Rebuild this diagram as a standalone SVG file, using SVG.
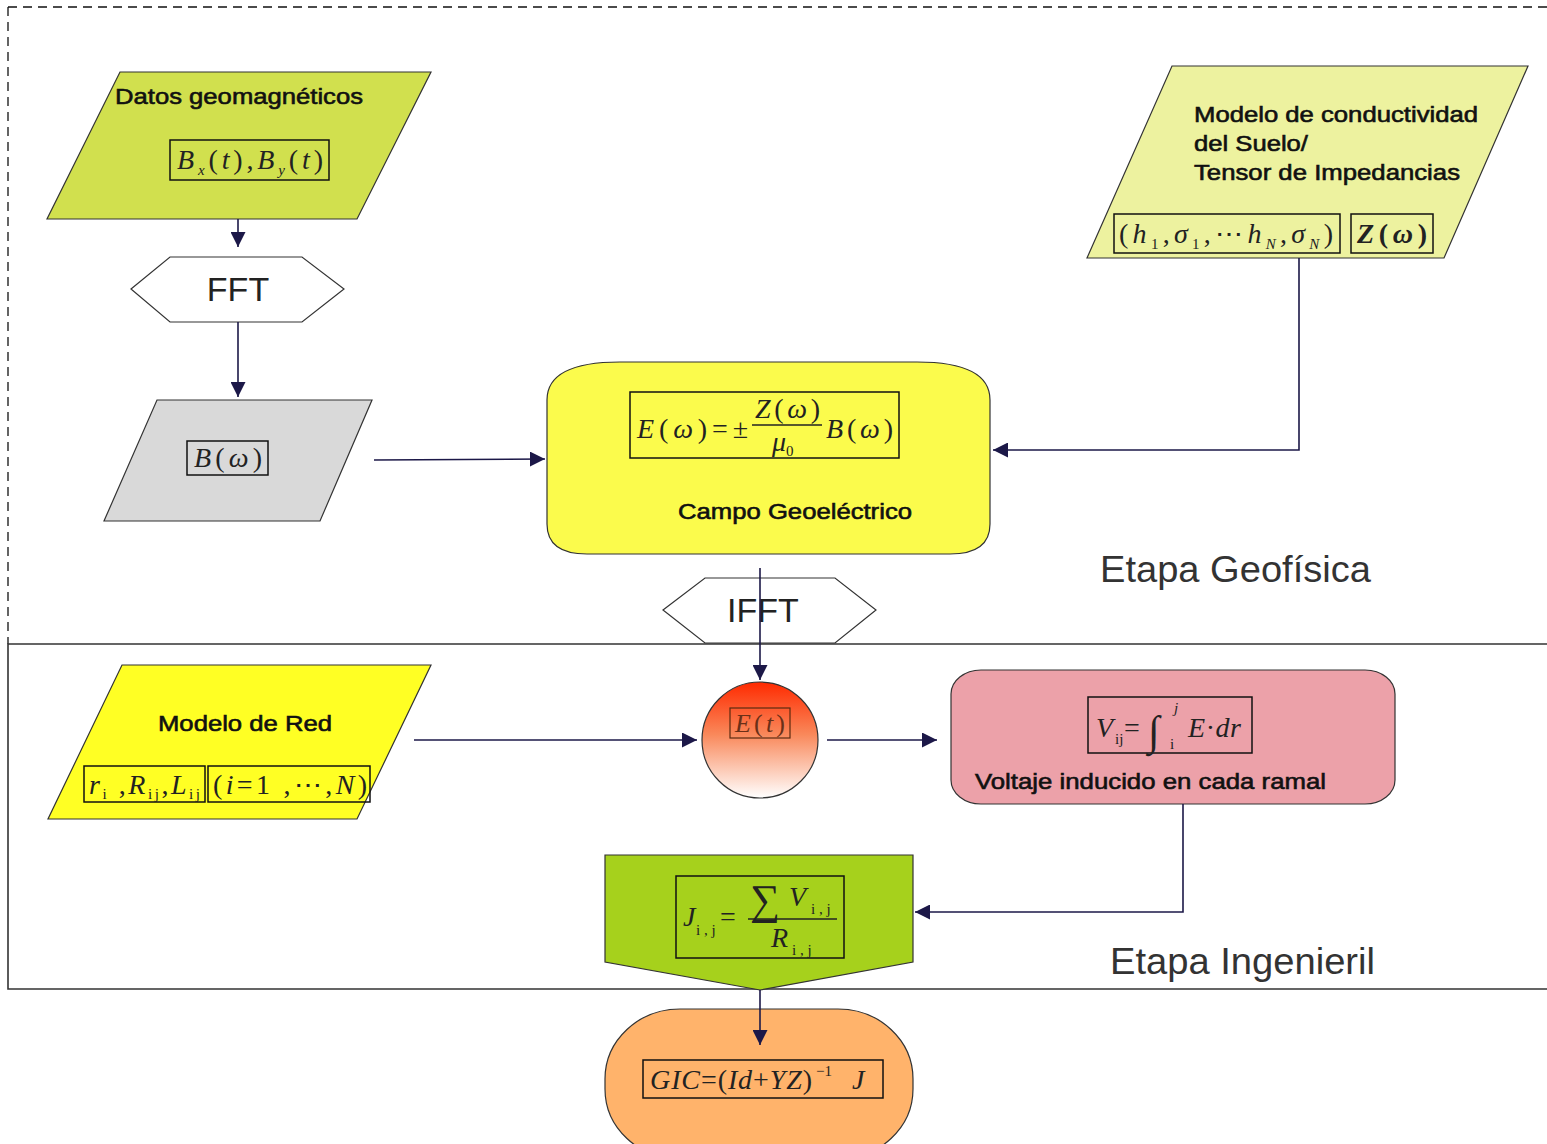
<svg xmlns="http://www.w3.org/2000/svg" width="1547" height="1144" viewBox="0 0 1547 1144">
<defs>
<style>
.lbl{font-family:"Liberation Sans",Arial,sans-serif;font-size:22px;fill:#111;stroke:#111;stroke-width:0.6}
.math{font-family:"Liberation Serif","Times New Roman",serif;font-style:italic;font-size:28px;fill:#222}
.up{font-style:normal}
.sub{font-size:15px}
.box{fill:none;stroke:#111;stroke-width:1.5}
.shape{stroke:#333;stroke-width:1.2}
.con{fill:none;stroke:#1c1848;stroke-width:1.6}
.stage{font-family:"Liberation Sans",Arial,sans-serif;font-size:36px;fill:#333}
.hexlbl{font-family:"Liberation Sans",Arial,sans-serif;font-size:34px;fill:#222;text-anchor:middle}
</style>
<marker id="arr" viewBox="0 0 10 10" refX="10" refY="5" markerWidth="15" markerHeight="15" markerUnits="userSpaceOnUse" orient="auto">
<path d="M0,0 L10,5 L0,10 z" fill="#1c1848"/>
</marker>
<linearGradient id="redgrad" x1="0" y1="0" x2="0" y2="1">
<stop offset="0" stop-color="#ff2a00"/>
<stop offset="0.45" stop-color="#f9885a"/>
<stop offset="1" stop-color="#ffffff"/>
</linearGradient>
</defs>

<g id="frames">
<path d="M8,7 H1547 M8,7 V644" fill="none" stroke="#111" stroke-width="1.3" stroke-dasharray="9,6"/>
<path d="M1547,644 H8 V989 H1547" fill="none" stroke="#333" stroke-width="1.6"/>
<text class="stage" x="1100" y="582" textLength="271" lengthAdjust="spacingAndGlyphs">Etapa Geofísica</text>
<text class="stage" x="1110" y="974" textLength="265" lengthAdjust="spacingAndGlyphs">Etapa Ingenieril</text>
</g>

<g id="datos">
<polygon class="shape" points="120,72 431,72 357,219 47,219" fill="#d1e04e"/>
<text class="lbl" x="115" y="104" textLength="248" lengthAdjust="spacingAndGlyphs">Datos geomagnéticos</text>
<rect class="box" x="170" y="140" width="159" height="40"/>
<text class="math" x="177" y="169" textLength="146" lengthAdjust="spacing">B<tspan class="sub" dy="6">x</tspan><tspan class="up" dy="-6">(</tspan>t<tspan class="up">),</tspan>B<tspan class="sub" dy="6">y</tspan><tspan class="up" dy="-6">(</tspan>t<tspan class="up">)</tspan></text>
</g>

<g id="fft">
<polygon class="shape" points="131,289 170,257 302,257 344,289 302,322 170,322" fill="#fff" stroke="#555"/>
<text class="hexlbl" x="238" y="301">FFT</text>
</g>

<g id="bomega">
<polygon class="shape" points="157,400 372,400 320,521 104,521" fill="#d9d9d9"/>
<rect class="box" x="187" y="441" width="81" height="34"/>
<text class="math" x="194" y="467" textLength="68" lengthAdjust="spacing">B<tspan class="up">(</tspan>ω<tspan class="up">)</tspan></text>
</g>

<g id="conductividad">
<polygon class="shape" points="1172,66 1528,66 1444,258 1087,258" fill="#edf29f"/>
<text class="lbl" x="1194" y="122" textLength="284" lengthAdjust="spacingAndGlyphs">Modelo de conductividad</text>
<text class="lbl" x="1194" y="151" textLength="114" lengthAdjust="spacingAndGlyphs">del Suelo/</text>
<text class="lbl" x="1194" y="180" textLength="266" lengthAdjust="spacingAndGlyphs">Tensor de Impedancias</text>
<rect class="box" x="1114" y="214" width="226" height="39"/>
<text class="math" x="1119" y="243" textLength="214" lengthAdjust="spacing"><tspan class="up">(</tspan>h<tspan class="sub up" dy="6">1</tspan><tspan class="up" dy="-6">,</tspan>σ<tspan class="sub up" dy="6">1</tspan><tspan class="up" dy="-6">,⋯</tspan>h<tspan class="sub" dy="6">N</tspan><tspan class="up" dy="-6">,</tspan>σ<tspan class="sub" dy="6">N</tspan><tspan class="up" dy="-6">)</tspan></text>
<rect class="box" x="1351" y="214" width="82" height="39"/>
<text class="math" x="1357" y="243" font-weight="bold" textLength="70" lengthAdjust="spacing">Z<tspan class="up">(</tspan>ω<tspan class="up">)</tspan></text>
</g>

<g id="campo">
<path class="shape" d="M547,400 Q547,362 620,362 H917 Q990,362 990,400 V524 Q990,554 950,554 H587 Q547,554 547,524 Z" fill="#fbfb4c"/>
<rect class="box" x="630" y="392" width="269" height="66"/>
<text class="math" x="637" y="438" textLength="111" lengthAdjust="spacing">E<tspan class="up">(</tspan>ω<tspan class="up">)=±</tspan></text>
<text class="math" x="755" y="418" textLength="65" lengthAdjust="spacing">Z<tspan class="up">(</tspan>ω<tspan class="up">)</tspan></text>
<line x1="752" y1="425" x2="822" y2="425" stroke="#222" stroke-width="1.3"/>
<text class="math" x="772" y="451">μ<tspan class="sub up" dy="5">0</tspan></text>
<text class="math" x="826" y="438" textLength="67" lengthAdjust="spacing">B<tspan class="up">(</tspan>ω<tspan class="up">)</tspan></text>
<text class="lbl" x="678" y="519" textLength="234" lengthAdjust="spacingAndGlyphs">Campo Geoeléctrico</text>
</g>

<g id="ifft">
<polygon class="shape" points="663,610 705,578 835,578 876,610 835,643 705,643" fill="#fff" stroke="#555"/>
<text class="hexlbl" x="763" y="622">IFFT</text>
</g>

<g id="red">
<polygon class="shape" points="122,665 431,665 357,819 48,819" fill="#ffff24"/>
<text class="lbl" x="158" y="731" textLength="174" lengthAdjust="spacingAndGlyphs">Modelo de Red</text>
<rect class="box" x="84" y="766" width="121" height="36"/>
<text class="math" x="89" y="794" textLength="111" lengthAdjust="spacing">r<tspan class="sub up" dy="5">i</tspan><tspan class="up" dy="-5"> ,</tspan>R<tspan class="sub up" dy="5">ij</tspan><tspan class="up" dy="-5">,</tspan>L<tspan class="sub up" dy="5">ij</tspan></text>
<rect class="box" x="208" y="766" width="162" height="36"/>
<text class="math" x="213" y="794" textLength="154" lengthAdjust="spacing"><tspan class="up">(</tspan>i<tspan class="up">=1 ,⋯,</tspan>N<tspan class="up">)</tspan></text>
</g>

<g id="et">
<ellipse cx="760" cy="740" rx="58" ry="58" fill="url(#redgrad)" stroke="#333" stroke-width="1.2"/>
<rect x="730" y="708" width="60" height="30" fill="none" stroke="#5a2a10" stroke-width="1.2"/>
<text class="math" x="735" y="732" textLength="50" lengthAdjust="spacing" style="fill:#6a3018;font-size:26px">E<tspan class="up">(</tspan>t<tspan class="up">)</tspan></text>
</g>

<g id="voltaje">
<rect class="shape" x="951" y="670" width="444" height="134" rx="30" ry="24" fill="#eca1a9"/>
<rect class="box" x="1088" y="697" width="164" height="56"/>
<text class="math" x="1096" y="737">V</text>
<text class="math sub up" x="1115" y="744">ij</text>
<text class="math up" x="1124" y="737">=</text>
<text class="math up" x="1148" y="745" style="font-size:42px">∫</text>
<text class="math sub" x="1174" y="713">j</text>
<text class="math sub up" x="1170" y="749">i</text>
<text class="math" x="1188" y="737" textLength="53" lengthAdjust="spacing">E<tspan class="up">·</tspan>dr</text>
<text class="lbl" x="975" y="789" textLength="351" lengthAdjust="spacingAndGlyphs">Voltaje inducido en cada ramal</text>
</g>

<g id="corriente">
<polygon class="shape" points="605,855 913,855 913,962 760,990 605,962" fill="#a6d11c"/>
<rect class="box" x="676" y="876" width="168" height="82"/>
<text class="math" x="683" y="926">J</text>
<text class="math sub up" x="696" y="935">i , j</text>
<text class="math up" x="720" y="926">=</text>
<text class="math up" x="750" y="914" style="font-size:42px">∑</text>
<text class="math" x="789" y="906">V</text>
<text class="math sub up" x="811" y="914">i , j</text>
<line x1="748" y1="919" x2="837" y2="919" stroke="#222" stroke-width="1.3"/>
<text class="math" x="771" y="947">R</text>
<text class="math sub up" x="792" y="955">i , j</text>
</g>

<g id="gic">
<rect class="shape" x="605" y="1009" width="308" height="150" rx="75" ry="70" fill="#ffb36b"/>
<rect class="box" x="643" y="1060" width="240" height="38"/>
<text class="math" x="650" y="1089" textLength="162" lengthAdjust="spacing">GIC<tspan class="up">=(</tspan>Id<tspan class="up">+</tspan>YZ<tspan class="up">)</tspan></text>
<text class="math sub up" x="816" y="1076">−1</text>
<text class="math" x="852" y="1089">J</text>
</g>

<g id="connectors">
<path class="con" d="M238,219 V247" marker-end="url(#arr)"/>
<path class="con" d="M238,322 V397" marker-end="url(#arr)"/>
<path class="con" d="M374,460 L545,459" marker-end="url(#arr)"/>
<path class="con" d="M1299,258 V450 H993" marker-end="url(#arr)"/>
<path class="con" d="M760,568 V680" marker-end="url(#arr)"/>
<path class="con" d="M414,740 H697" marker-end="url(#arr)"/>
<path class="con" d="M827,740 H937" marker-end="url(#arr)"/>
<path class="con" d="M1183,804 V912 H915" marker-end="url(#arr)"/>
<path class="con" d="M760,990 V1045" marker-end="url(#arr)"/>
</g>
</svg>
